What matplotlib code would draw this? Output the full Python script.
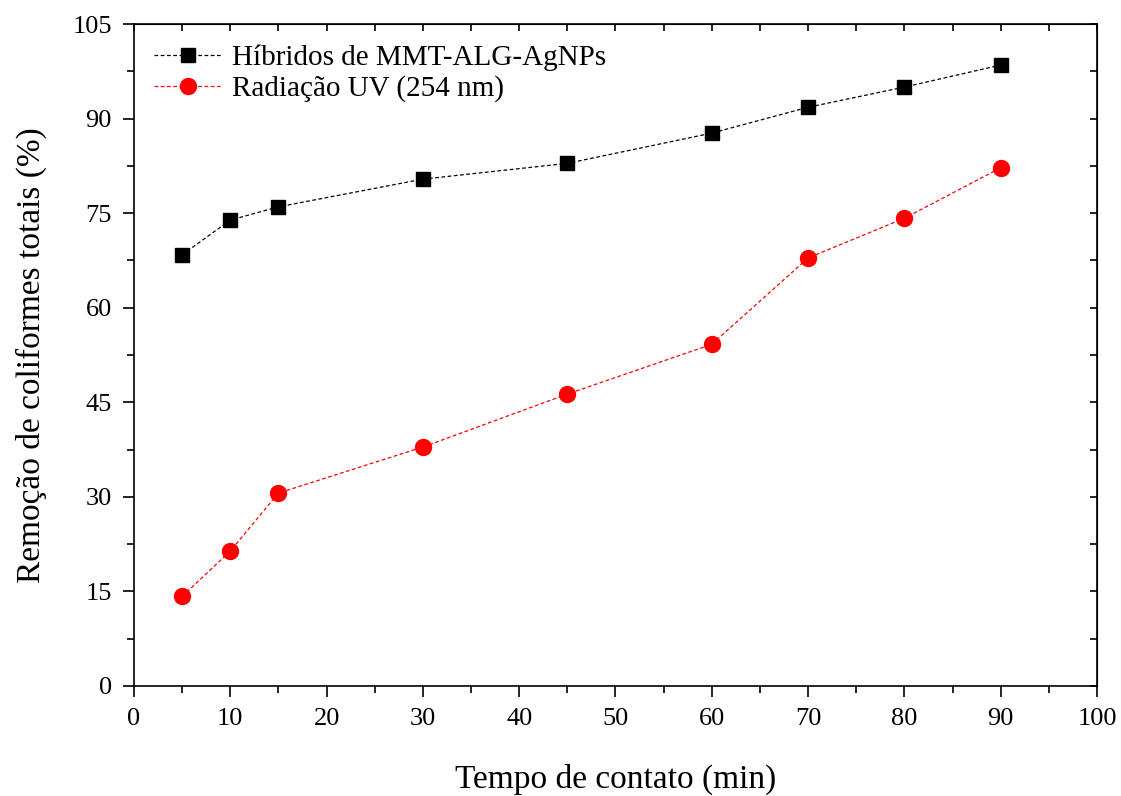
import numpy as np
import matplotlib.pyplot as plt
from matplotlib.ticker import MultipleLocator

plt.rcParams['font.family'] = ['Liberation Serif', 'DejaVu Serif']

# contact time (min)
tempo = [5, 10, 15, 30, 45, 60, 70, 80, 90]
# removal of total coliforms (%)
hibridos = [68.4, 73.9, 76.0, 80.4, 82.9, 87.7, 91.8, 95.0, 98.5]
radiacao_uv = [14.2, 21.4, 30.6, 37.9, 46.3, 54.2, 67.9, 74.2, 82.2]

fig = plt.figure(figsize=(11.21, 7.96), dpi=100)
ax = fig.add_axes([0.1195, 0.1382, 0.8591, 0.8316])

ax.plot(tempo, hibridos, linestyle='--', dashes=(3, 2), color='black', linewidth=0.9,
        marker='s', markersize=10.5, markerfacecolor='black', markeredgecolor='black',
        label='Híbridos de MMT-ALG-AgNPs')
ax.plot(tempo, radiacao_uv, linestyle='--', dashes=(3, 2), color='red', linewidth=0.9,
        marker='o', markersize=11.5, markerfacecolor='red', markeredgecolor='red',
        label='Radiação UV (254 nm)')

ax.set_xlim(0, 100)
ax.set_ylim(0, 105)
ax.xaxis.set_major_locator(MultipleLocator(10))
ax.xaxis.set_minor_locator(MultipleLocator(5))
ax.yaxis.set_major_locator(MultipleLocator(15))
ax.yaxis.set_minor_locator(MultipleLocator(7.5))

ax.tick_params(axis='both', which='major', direction='out', length=8, width=1.2,
               labelsize=19, pad=8)
ax.tick_params(axis='both', which='minor', direction='out', length=5, width=1.2)
for s in ax.spines.values():
    s.set_linewidth(1.2)

# inward ticks on top and right
axt = ax.secondary_xaxis('top')
axt.xaxis.set_major_locator(MultipleLocator(5))
axt.tick_params(direction='in', length=5, width=1.2, labelsize=0, labeltop=False)
axr = ax.secondary_yaxis('right')
axr.yaxis.set_major_locator(MultipleLocator(7.5))
axr.tick_params(direction='in', length=5, width=1.2, labelsize=0, labelright=False)

ax.set_xlabel('Tempo de contato (min)', fontsize=24, labelpad=24)
ax.set_ylabel('Remoção de coliformes totais (%)', fontsize=24, labelpad=18)

ax.legend(loc='upper left', frameon=False, fontsize=21, handlelength=2.3,
          handletextpad=0.35, labelspacing=0.15, borderaxespad=0.3,
          bbox_to_anchor=(0.0, 1.0))

fig.savefig('out.png', dpi=100)
